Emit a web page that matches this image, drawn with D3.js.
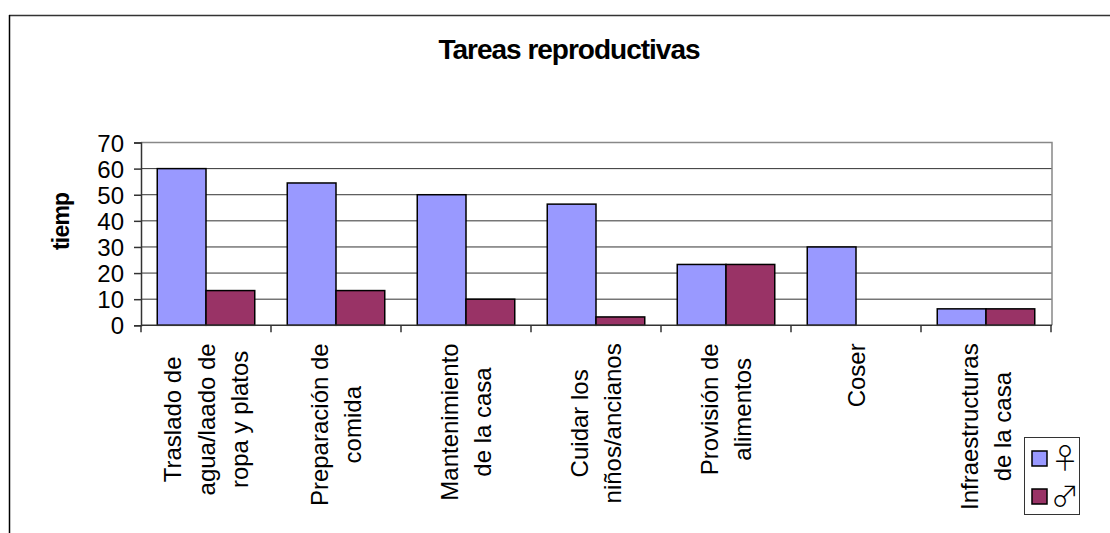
<!DOCTYPE html>
<html>
<head>
<meta charset="utf-8">
<script src="https://cdn.jsdelivr.net/npm/d3@7"></script>
<style>
  body { margin: 0; background: #fff; }
  svg { display: block; font-family: "Liberation Sans", Arial, sans-serif; }
</style>
</head>
<body>
<div id="chart"></div>
<script>
// values
const title = "Tareas reproductivas"
const yLabel = "tiempo"
const categories = [
    ["Traslado de", "agua/laado de", "ropa y platos"],
    ["Preparación de", "comida"],
    ["Mantenimiento", "de la casa"],
    ["Cuidar los", "niños/ancianos"],
    ["Provisión de", "alimentos"],
    ["Coser"],
    ["Infraestructuras", "de la casa"]
]
const female = [60, 54.5, 50, 46.4, 23.3, 30, 6.3]
const male = [13.3, 13.3, 10, 3.2, 23.3, 0, 6.3]
const seriesNames = ["\u2640", "\u2642"]
const seriesColors = ["#9999ff", "#993366"]
const yTicks = [0, 10, 20, 30, 40, 50, 60, 70]

class BarChart {
    constructor(div) {
        this.div = div
        this.margin = { left: 141, right: 58, top: 142.5, bottom: 207.7 }
        this.width = 1110
        this.height = 533
        this.innerW = this.width - this.margin.left - this.margin.right
        this.innerH = this.height - this.margin.top - this.margin.bottom
        this.init_svg()
        this.init_scale()
        this.draw_grid()
        this.draw_bars()
        this.draw_axis()
        this.draw_labels()
        this.draw_legend()
    }

    init_svg() {
        this.svg = d3.select(this.div).append("svg")
            .attr("width", this.width)
            .attr("height", this.height)
        this.svg.append("rect").attr("width", this.width).attr("height", this.height).attr("fill", "#fff")
        // outer frame (only top and left show)
        this.svg.append("line").attr("x1", 9).attr("x2", this.width).attr("y1", 15.5).attr("y2", 15.5)
            .attr("stroke", "#333").attr("stroke-width", 1.5)
        this.svg.append("line").attr("x1", 9.5).attr("x2", 9.5).attr("y1", 15).attr("y2", this.height)
            .attr("stroke", "#000").attr("stroke-width", 1.5)
        this.g = this.svg.append("g")
            .attr("transform", `translate(${this.margin.left},${this.margin.top})`)
    }

    init_scale() {
        this.x = d3.scaleBand()
            .domain(d3.range(categories.length))
            .range([0, 910])
            .paddingInner(0.25)
            .paddingOuter(0.125)
        this.xs = d3.scaleBand().domain([0, 1]).range([0, this.x.bandwidth()])
        this.y = d3.scaleLinear().domain([0, 70]).range([this.innerH, 0])
    }

    draw_grid() {
        this.g.selectAll(".grid")
            .data(yTicks.filter(d => d > 0 && d < 70))
            .join("line")
            .attr("x1", 0).attr("x2", this.innerW)
            .attr("y1", d => this.y(d)).attr("y2", d => this.y(d))
            .attr("stroke", "#333").attr("stroke-width", 1)
        // plot area border top/right
        this.g.append("path")
            .attr("d", `M0,${this.y(70)}H${this.innerW}V${this.innerH}`)
            .attr("fill", "none").attr("stroke", "#888").attr("stroke-width", 1.5)
    }

    draw_bars() {
        const data = []
        categories.forEach((c, i) => {
            data.push({ i: i, s: 0, v: female[i] })
            data.push({ i: i, s: 1, v: male[i] })
        })
        this.g.selectAll(".bar")
            .data(data)
            .join("rect")
            .attr("x", d => this.x(d.i) + this.xs(d.s))
            .attr("y", d => this.y(d.v))
            .attr("width", this.xs.bandwidth())
            .attr("height", d => this.innerH - this.y(d.v))
            .attr("fill", d => seriesColors[d.s])
            .attr("stroke", "#000")
            .attr("stroke-width", 1.5)
    }

    draw_axis() {
        const yAxis = this.g.append("g")
            .call(d3.axisLeft(this.y).tickValues(yTicks).tickSize(7).tickPadding(10))
        yAxis.select(".domain").attr("stroke", "#333").attr("stroke-width", 1.5)
        yAxis.selectAll(".tick line").attr("stroke", "#333").attr("stroke-width", 1.5)
        yAxis.selectAll("text")
            .attr("font-size", 24).attr("font-family", "Liberation Sans, Arial, sans-serif")
            .attr("fill", "#000").attr("dy", "0.36em")

        const step = this.x.step()
        const bounds = d3.range(categories.length + 1).map(i => i * step)
        const xAxis = this.g.append("g").attr("transform", `translate(0,${this.innerH})`)
        xAxis.append("line").attr("x1", 0).attr("x2", this.innerW)
            .attr("stroke", "#333").attr("stroke-width", 1.5)
        xAxis.selectAll(".xt")
            .data(bounds)
            .join("line")
            .attr("x1", d => d).attr("x2", d => d)
            .attr("y1", 0).attr("y2", 7)
            .attr("stroke", "#333").attr("stroke-width", 1.5)

        // category labels, rotated, longest line starts at the top
        const lineGap = 33.5
        categories.forEach((lines, i) => {
            const cx = this.x(i) + this.x.bandwidth() / 2
            const lab = xAxis.append("g")
            const texts = lines.map((t, k) => {
                const lx = cx + (k - (lines.length - 1) / 2) * lineGap + 8.5
                return lab.append("text")
                    .attr("font-size", 24)
                    .attr("text-anchor", "middle")
                    .attr("data-x", lx)
                    .text(t)
            })
            const maxLen = d3.max(texts, t => t.node().getComputedTextLength())
            texts.forEach(t => {
                t.attr("transform", `translate(${t.attr("data-x")},${18 + maxLen / 2}) rotate(-90)`)
            })
        })
    }

    draw_labels() {
        this.svg.append("text")
            .attr("x", 569).attr("y", 59)
            .attr("text-anchor", "middle")
            .attr("font-size", 28)
            .attr("font-weight", "bold")
            .attr("letter-spacing", -1)
            .text(title)

        // y title is cut off in the original
        this.svg.append("clipPath").attr("id", "ycut")
            .append("rect").attr("x", 30).attr("y", 193).attr("width", 60).attr("height", 100)
        this.svg.append("g")
            .attr("clip-path", "url(#ycut)")
            .append("text")
            .attr("transform", "translate(69,250) rotate(-90)")
            .attr("font-size", 23)
            .attr("font-weight", "bold")
            .attr("letter-spacing", -0.8)
            .text(yLabel)
    }

    draw_legend() {
        const lg = this.svg.append("g").attr("transform", "translate(1024,437)")
        lg.append("rect").attr("x", 0.5).attr("y", 0.5).attr("width", 55).attr("height", 77)
            .attr("fill", "#fff").attr("stroke", "#333").attr("stroke-width", 1)
        seriesNames.forEach((n, i) => {
            lg.append("text")
                .attr("x", 41).attr("y", 32 + i * 38)
                .attr("text-anchor", "middle")
                .attr("font-family", "Noto Sans CJK JP")
                .attr("font-weight", 300)
                .attr("font-size", 28)
                .text(n)
            lg.append("rect")
                .attr("x", 8).attr("y", 14 + i * 38)
                .attr("width", 15).attr("height", 15)
                .attr("fill", seriesColors[i]).attr("stroke", "#000").attr("stroke-width", 1.5)
        })
    }
}

new BarChart(document.getElementById("chart"))
</script>
</body>
</html>
